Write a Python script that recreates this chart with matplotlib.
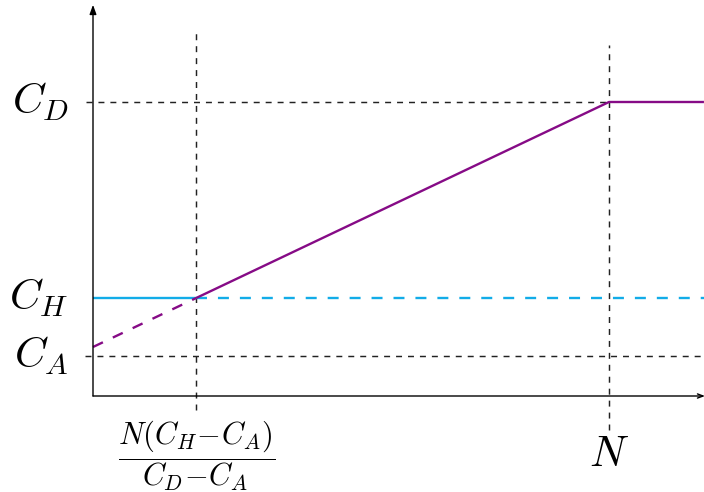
import numpy as np
import matplotlib
matplotlib.use("Agg")
import matplotlib.pyplot as plt

plt.rcParams["mathtext.fontset"] = "cm"
plt.rcParams["lines.scale_dashes"] = False

# levels on the y axis
C_A = 1.0
C_H = 2.45
C_D = 7.35
N = 1.0
x_cross = 0.2      # where the cost line meets C_H
x_end = 1.184      # right end of the x axis
y_top = 9.78       # top of the y axis

# cost line: dashed below C_H, solid up to N, flat after
line_x = [0.0, x_cross, N, x_end]
line_y = [1.225, C_H, C_D, C_D]

purple = "#860b86"
cyan = "#12ace8"
guide = "#222222"

fig = plt.figure(figsize=(7.04, 4.92), dpi=100)
ax = fig.add_axes([0, 0, 1, 1])
ax.set_xlim(-93 / 516, 611 / 516)
ax.set_ylim(-2.4, 9.9)
ax.axis("off")

# axes with arrow heads
ax.annotate("", xy=(0, y_top), xytext=(0, 0), annotation_clip=False,
            arrowprops=dict(arrowstyle="-|>,head_length=0.55,head_width=0.2",
                            color="black", lw=1.0, shrinkA=0, shrinkB=0))
ax.annotate("", xy=(x_end + 0.002, 0), xytext=(0, 0), annotation_clip=False,
            arrowprops=dict(arrowstyle="->,head_length=0.4,head_width=0.15",
                            color="black", lw=1.0, shrinkA=0, shrinkB=0))

# dashed guides
bd = (0, (4.3, 4.3))
ax.plot([-0.013, N], [C_D, C_D], color=guide, lw=1.05, linestyle=bd)
ax.plot([-0.015, x_end], [C_A, C_A], color=guide, lw=1.05, linestyle=bd)
ax.plot([x_cross, x_cross], [-0.35, 9.15], color=guide, lw=1.05, linestyle=bd)
ax.plot([N, N], [-0.85, 8.78], color=guide, lw=1.05, linestyle=bd)

# C_H level
cd = (0, (7.9, 7.9))
ax.plot([0, x_cross], [C_H, C_H], color=cyan, lw=1.7, solid_capstyle="butt")
ax.plot([x_cross, x_end], [C_H, C_H], color=cyan, lw=1.7, linestyle=cd)

# cost line
ax.plot(line_x[:2], line_y[:2], color=purple, lw=1.7, linestyle=cd)
ax.plot(line_x[1:], line_y[1:], color=purple, lw=1.7, solid_capstyle="butt")

# labels
fs = 31
ax.text(-0.047, C_D, r"$C_D$", fontsize=fs, ha="right", va="center")
ax.text(-0.047, C_H, r"$C_H$", fontsize=fs, ha="right", va="center")
ax.text(-0.047, C_A, r"$C_A$", fontsize=fs, ha="right", va="center")
ax.text(N, -1.45, r"$N$", fontsize=fs, ha="center", va="center")
ax.text(x_cross, -1.48, r"$\dfrac{N(C_H\!-\!C_A)}{C_D\!-\!C_A}$", fontsize=22,
        ha="center", va="center")

fig.savefig("out.png", dpi=100)
